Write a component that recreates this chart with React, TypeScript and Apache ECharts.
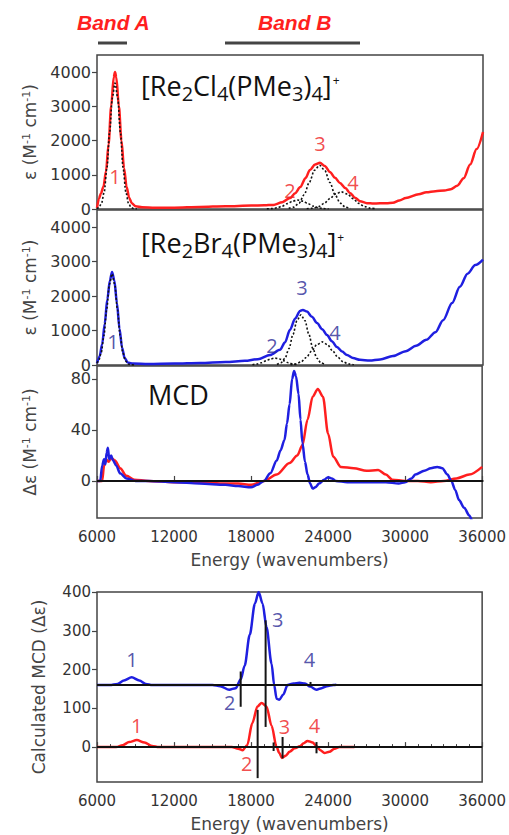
import React, { useEffect, useRef } from "react";
import * as echarts from "echarts";

// ---------- data (x in wavenumbers) ----------
const xTicks = [6000, 12000, 18000, 24000, 30000, 36000];
const epsTicks = [0, 1000, 2000, 3000, 4000];
const mcdTicks = [0, 40, 80];
const calcTicks = [0, 100, 200, 300, 400];

// Panel 1: [Re2Cl4(PMe3)4]+ absorption (red)
const clAbs = [
  [6000, 30], [6150, 300], [6300, 450], [6500, 650], [6700, 1100], [6900, 1900], [7100, 3000],
  [7300, 3850], [7400, 4000], [7500, 3850], [7700, 3000], [7900, 2000], [8100, 1200], [8300, 650],
  [8500, 330], [8700, 170], [9000, 80], [9500, 50], [10500, 40], [12000, 40], [14000, 60],
  [16000, 80], [18000, 100], [19000, 110], [19700, 120], [20400, 200], [21000, 320], [21400, 460],
  [21800, 640], [22200, 900], [22550, 1140], [22950, 1300], [23330, 1350], [23700, 1260],
  [24100, 1080], [24500, 910], [24880, 760], [25300, 610], [25660, 470], [26050, 330], [26440, 230],
  [26980, 170], [27500, 160], [28500, 170], [29000, 180], [29500, 250], [30000, 320], [31000, 430],
  [31600, 490], [32300, 520], [33000, 540], [33500, 580], [34000, 680], [34500, 900], [35000, 1300],
  [35500, 1750], [36000, 2250],
];
const clFit1 = [
  [6000, 4], [6140, 41], [6350, 162], [6560, 498], [6770, 1195], [6980, 2232], [7190, 3247],
  [7400, 3680], [7610, 3247], [7820, 2232], [8030, 1195], [8240, 498], [8450, 162], [8660, 41], [8870, 8], [9100, 0],
];
const clFit2 = [
  [19200, 3], [19600, 11], [20000, 35], [20400, 84], [20800, 158], [21200, 229], [21600, 260],
  [22000, 229], [22400, 158], [22800, 84], [23200, 35], [23600, 11], [24000, 3],
];
const clFit3 = [
  [20900, 14], [21300, 56], [21700, 173], [22100, 416], [22500, 776], [22900, 1130], [23300, 1280],
  [23700, 1130], [24100, 776], [24500, 416], [24900, 173], [25300, 56], [25700, 14],
];
const clFit4 = [
  [22300, 6], [22750, 22], [23200, 68], [23650, 162], [24100, 303], [24550, 441], [25000, 500],
  [25450, 441], [25900, 303], [26350, 162], [26800, 68], [27250, 22], [27700, 6],
];
const clLabels = [[7400, 960, "1"], [21000, 550, "2"], [23330, 1925, "3"], [25900, 760, "4"]];

// Panel 2: [Re2Br4(PMe3)4]+ absorption (blue)
const brAbs = [
  [6000, 50], [6200, 250], [6400, 600], [6600, 1200], [6800, 1900], [7000, 2450], [7170, 2700],
  [7350, 2450], [7550, 1800], [7750, 1050], [7950, 500], [8150, 200], [8400, 70], [8800, 40],
  [10000, 30], [12000, 40], [14000, 60], [16000, 90], [17500, 120], [18500, 170], [19450, 290],
  [20220, 440], [20600, 650], [21000, 1020], [21400, 1350], [21780, 1570], [22000, 1600],
  [22320, 1550], [22700, 1400], [23100, 1220], [23500, 1040], [23880, 870], [24250, 690],
  [24650, 520], [25050, 390], [25430, 290], [25900, 200], [26440, 150], [27200, 130], [28000, 160],
  [29000, 260], [30000, 400], [30800, 560], [31600, 730], [32300, 950], [32900, 1300], [33600, 1800],
  [34200, 2270], [34800, 2650], [35400, 2900], [36000, 3060],
];
const brFit1 = [
  [6000, 55], [6120, 117], [6330, 359], [6540, 860], [6750, 1607], [6960, 2338], [7170, 2650],
  [7380, 2338], [7590, 1607], [7800, 860], [8010, 359], [8220, 117], [8430, 29], [8640, 5], [8900, 0],
];
const brFit2 = [
  [18080, 9], [18430, 27], [18780, 65], [19130, 121], [19480, 176], [19830, 200], [20180, 176],
  [20530, 121], [20880, 65], [21230, 27], [21580, 9],
];
const brFit3 = [
  [19990, 16], [20300, 64], [20610, 198], [20920, 474], [21230, 885], [21540, 1288], [21850, 1460],
  [22160, 1288], [22470, 885], [22780, 474], [23090, 198], [23400, 64], [23710, 16],
];
const brFit4 = [
  [21040, 7], [21450, 29], [21860, 91], [22270, 218], [22680, 406], [23090, 591], [23500, 670],
  [23910, 591], [24320, 406], [24730, 218], [25140, 91], [25550, 29], [25960, 7],
];
const brLabels = [[7240, 670, "1"], [19600, 580, "2"], [21930, 2245, "3"], [24500, 930, "4"]];

// Panel 3: measured MCD
const mcdBr = [
  [6000, 0], [6250, 0], [6400, 12], [6550, 17], [6650, 13], [6750, 22], [6850, 26], [6950, 17],
  [7100, 20], [7250, 16], [7500, 12], [7800, 6], [8300, 2], [9000, 0], [10000, 0], [12000, -1],
  [14000, -2], [16000, -3], [17000, -4], [18000, -5], [18500, -3], [19000, 0], [19500, 6],
  [20000, 16], [20300, 24], [20600, 32], [20800, 45], [21000, 60], [21200, 80], [21350, 86],
  [21500, 82], [21700, 68], [21850, 48], [22000, 30], [22200, 15], [22400, 5], [22600, -2],
  [22800, -6], [23000, -5], [23300, -2], [23700, 1], [24000, 3], [24300, 2], [24600, 0],
  [25500, -1], [27000, -1], [28500, -1], [29500, -2], [30000, -1], [30500, 2], [30800, 5],
  [31500, 8], [32000, 10], [32500, 11], [32900, 10], [33300, 5], [33600, 0], [33900, -7],
  [34200, -15], [34600, -21], [35000, -27], [35300, -33], [35600, -40],
];
const mcdCl = [
  [6000, 0], [6400, 0], [6550, 12], [6700, 17], [6900, 15], [7100, 18], [7400, 16], [7800, 10],
  [8300, 4], [8900, 1], [10000, 0], [12000, -1], [14000, -1], [16000, -2], [17000, -2], [18000, -3],
  [19000, 0], [20000, 5], [21000, 14], [21600, 20], [22000, 28], [22400, 48], [22800, 66],
  [23200, 72], [23600, 66], [24000, 37], [24400, 19], [25000, 11], [26000, 10], [27000, 8],
  [27900, 8.5], [28500, 5], [29000, 1], [30000, 0], [31000, 0], [32000, -1], [33000, 0],
  [34000, 2], [35000, 5], [36000, 11],
];
const mcdZero = [[6000, 0], [36100, 0]];

// Panel 4: calculated MCD (Br offset to 160)
const calcBr = [
  [6000, 160], [7000, 160], [7600, 163], [8100, 172], [8700, 180], [9300, 172], [9800, 163],
  [10300, 160], [15000, 160], [15600, 157], [16300, 148], [16800, 152], [17200, 175], [17500, 210],
  [17900, 290], [18300, 370], [18590, 400], [18900, 370], [19200, 310], [19600, 215], [19800, 160],
  [19990, 125], [20200, 122], [20500, 135], [20845, 160], [21300, 164], [21777, 166], [22200, 164],
  [22600, 156], [23098, 148], [23500, 152], [23900, 157], [24400, 160], [24650, 161],
];
const calcCl = [
  [6000, 0], [7500, 0], [8000, 5], [8500, 13], [9100, 18], [9700, 12], [10300, 3], [10800, 0],
  [16500, 0], [17000, -4], [17350, -8], [17700, 5], [18100, 62], [18500, 105], [18824, 114],
  [19200, 105], [19600, 55], [19990, 0], [20200, -15], [20400, -28], [20700, -22], [21000, -12],
  [21400, -3], [21800, 2], [22100, 10], [22400, 16], [22800, 12], [23100, 2], [23400, -8],
  [23720, -15], [24100, -12], [24500, -4], [24885, 0], [26050, 0],
];
const calcBrBase = [[6000, 160], [36000, 160]];
const calcClBase = [[6000, 0], [36000, 0]];
const sticksBr = [[17192, 104, 195], [19134, 52, 327], [22632, 156, 168]];
const sticksCl = [[18513, -80, 96], [19756, -10, 12], [20456, -29, 26], [23098, -16, 13]];
const calcBrLabels = [[8720, 226, "1"], [16340, 114, "2"], [20070, 330, "3"], [22550, 226, "4"]];
const calcClLabels = [[9100, 57, "1"], [17660, -42, "2"], [20610, 52, "3"], [22940, 57, "4"]];

// ---------- styles ----------
const RED = "#ff1f1f";
const BLUE = "#1f1fe0";
const RED_LBL = "#ee2020";
const BLUE_LBL = "#2a2a96";
const AXIS = "#444";
const TXT = "#333";
const TICK_FONT = "DejaVu Sans";
const LBL_FONT = "Open Sans";

const L = 97;
const W = 386;
const grids = [
  { left: L, width: W, top: 55, height: 154 },
  { left: L, width: W, top: 210, height: 155 },
  { left: L, width: W, top: 366, height: 152 },
  { left: L, width: W, top: 592, height: 190 },
];

function App() {
  const ref = useRef<HTMLDivElement>(null);
  useEffect(() => {
    if (!ref.current) return;
    const chart = echarts.init(ref.current, undefined, { renderer: "svg" });

    const fmt = (v: number) => String(v);
    const yName = (main: string) => ({
      name: `{t|${main} (M}{s|-1}{t| cm}{s|-1}{t|)}`,
      nameLocation: "middle" as const,
      nameRotate: 90,
      nameGap: 50,
      nameTextStyle: {
        rich: {
          t: { fontSize: 17, color: AXIS, fontFamily: TICK_FONT, verticalAlign: "top", lineHeight: 26 },
          s: { fontSize: 11, color: AXIS, fontFamily: TICK_FONT, verticalAlign: "top", lineHeight: 14 },
        },
      },
    });
    const yBase = (gi: number, min: number, max: number, ticks: number[], fs: number) => ({
      type: "value" as const,
      gridIndex: gi,
      min,
      max,
      axisLine: { show: false },
      splitLine: { show: false },
      axisTick: { show: true, inside: false, length: 5, lineStyle: { color: AXIS, width: 1.2 }, customValues: ticks },
      axisLabel: {
        customValues: ticks,
        formatter: fmt,
        color: TXT,
        fontSize: fs,
        fontFamily: TICK_FONT,
        margin: 6,
      },
    });
    const xHidden = (gi: number) => ({
      type: "value" as const,
      gridIndex: gi,
      min: 6000,
      max: 36000,
      axisLine: { show: false },
      axisTick: { show: false },
      axisLabel: { show: false },
      splitLine: { show: false },
    });
    const xShown = (gi: number, nameGap: number, minor: boolean) => ({
      type: "value" as const,
      gridIndex: gi,
      min: 6000,
      max: 36000,
      interval: 6000,
      axisLine: { show: false },
      axisTick: { show: true, inside: true, length: 5, lineStyle: { color: AXIS, width: 1.2 } },
      minorTick: { show: minor, splitNumber: 6, length: 3, lineStyle: { color: AXIS, width: 1 } },
      axisLabel: { customValues: xTicks, formatter: fmt, color: TXT, fontSize: 15, fontFamily: TICK_FONT, margin: 11 },
      splitLine: { show: false },
      name: "Energy (wavenumbers)",
      nameLocation: "middle" as const,
      nameGap,
      nameTextStyle: { fontSize: 17, color: AXIS, fontFamily: TICK_FONT },
    });

    const line = (data: number[][], xi: number, color: string, width: number, type: any = "solid", z = 2) => ({
      type: "line" as const,
      xAxisIndex: xi,
      yAxisIndex: xi,
      data,
      showSymbol: false,
      smooth: 0.3,
      smoothMonotone: "x",
      lineStyle: { color, width, type },
      z,
      silent: true,
    });
    const labels = (data: any[], xi: number, color: string, size: number) => ({
      type: "scatter" as const,
      xAxisIndex: xi,
      yAxisIndex: xi,
      data,
      symbolSize: 1,
      itemStyle: { color: "rgba(0,0,0,0)" },
      label: {
        show: true,
        position: "inside",
        formatter: (p: any) => p.data[2],
        color,
        fontSize: size,
        fontFamily: LBL_FONT,
      },
      z: 10,
      silent: true,
    });
    const sticks = (data: number[][], xi: number) => ({
      type: "custom" as const,
      xAxisIndex: xi,
      yAxisIndex: xi,
      data,
      encode: { x: 0, y: [1, 2] },
      renderItem: (_p: any, api: any) => {
        const a = api.coord([api.value(0), api.value(1)]);
        const b = api.coord([api.value(0), api.value(2)]);
        return {
          type: "line",
          shape: { x1: a[0], y1: a[1], x2: b[0], y2: b[1] },
          style: { stroke: "#151515", lineWidth: 2 },
        };
      },
      z: 8,
      silent: true,
    });

    const compound = (halide: string, y: number) => ({
      type: "text",
      left: 141,
      top: y,
      style: {
        text: `{m|[Re}{b|2}{m|${halide}}{b|4}{m|(PMe}{b|3}{m|)}{b|4}{m|]}{p|+}`,
        rich: {
          m: { fontSize: 27, fontFamily: LBL_FONT, fill: "#111", verticalAlign: "top", lineHeight: 40 },
          b: { fontSize: 20, fontFamily: LBL_FONT, fill: "#111", verticalAlign: "top", lineHeight: 40, padding: [11, 0, 0, 0] },
          p: { fontSize: 12, fontFamily: LBL_FONT, fill: "#111", verticalAlign: "top", lineHeight: 40, padding: [2, 0, 0, 1] },
        },
      },
      z: 20,
    });

    chart.setOption({
      animation: false,
      backgroundColor: "#ffffff",
      grid: grids.map((g) => ({ ...g, show: true, borderColor: AXIS, borderWidth: 1.5, backgroundColor: "transparent" })),
      xAxis: [xHidden(0), xHidden(1), xShown(2, 33, false), xShown(3, 33, true)],
      yAxis: [
        { ...yBase(0, 0, 4500, epsTicks, 16), ...yName("ε") },
        { ...yBase(1, 0, 4500, epsTicks, 16), ...yName("ε") },
        { ...yBase(2, -29, 90, mcdTicks, 16), ...yName("Δε") },
        {
          ...yBase(3, -90, 400, calcTicks, 15),
          name: "Calculated MCD (Δε)",
          nameLocation: "middle",
          nameRotate: 90,
          nameGap: 50,
          nameTextStyle: { fontSize: 17, color: AXIS, fontFamily: TICK_FONT },
        },
      ],
      series: [
        line(clAbs, 0, RED, 2.5),
        line(clFit1, 0, "#111", 1.6, [2, 2], 4),
        line(clFit2, 0, "#111", 1.6, [2, 2], 4),
        line(clFit3, 0, "#111", 1.6, [2, 2], 4),
        line(clFit4, 0, "#111", 1.6, [2, 2], 4),
        labels(clLabels, 0, RED_LBL, 20),

        line(brAbs, 1, BLUE, 2.5),
        line(brFit1, 1, "#111", 1.6, [2, 2], 4),
        line(brFit2, 1, "#111", 1.6, [2, 2], 4),
        line(brFit3, 1, "#111", 1.6, [2, 2], 4),
        line(brFit4, 1, "#111", 1.6, [2, 2], 4),
        labels(brLabels, 1, BLUE_LBL, 20),

        line(mcdCl, 2, RED, 2.5),
        line(mcdBr, 2, BLUE, 2.5, "solid", 3),
        line(mcdZero, 2, "#111", 2, "solid", 5),

        line(calcBr, 3, BLUE, 2.5),
        line(calcCl, 3, RED, 2.5),
        line(calcBrBase, 3, "#111", 2, "solid", 5),
        line(calcClBase, 3, "#111", 2, "solid", 5),
        sticks(sticksBr, 3),
        sticks(sticksCl, 3),
        labels(calcBrLabels, 3, BLUE_LBL, 20),
        labels(calcClLabels, 3, RED_LBL, 20),
      ],
      graphic: [
        {
          type: "text",
          left: 77,
          top: 12,
          style: { text: "Band A", fontSize: 21, fontWeight: "bold", fontStyle: "italic", fontFamily: "Liberation Sans", fill: RED },
        },
        {
          type: "text",
          left: 258,
          top: 12,
          style: { text: "Band B", fontSize: 21, fontWeight: "bold", fontStyle: "italic", fontFamily: "Liberation Sans", fill: RED },
        },
        { type: "line", shape: { x1: 98, y1: 43, x2: 127, y2: 43 }, style: { stroke: "#444", lineWidth: 3 } },
        { type: "line", shape: { x1: 225, y1: 43, x2: 360, y2: 43 }, style: { stroke: "#444", lineWidth: 3 } },
        compound("Cl", 72),
        compound("Br", 229),
        {
          type: "text",
          left: 148,
          top: 381,
          style: { text: "MCD", fontSize: 27, fontFamily: LBL_FONT, fill: "#111" },
        },
      ],
    });
    return () => chart.dispose();
  }, []);
  return <div ref={ref} style={{ position: "absolute", left: 0, top: 0, width: 509, height: 835 }} />;
}

export default App;
